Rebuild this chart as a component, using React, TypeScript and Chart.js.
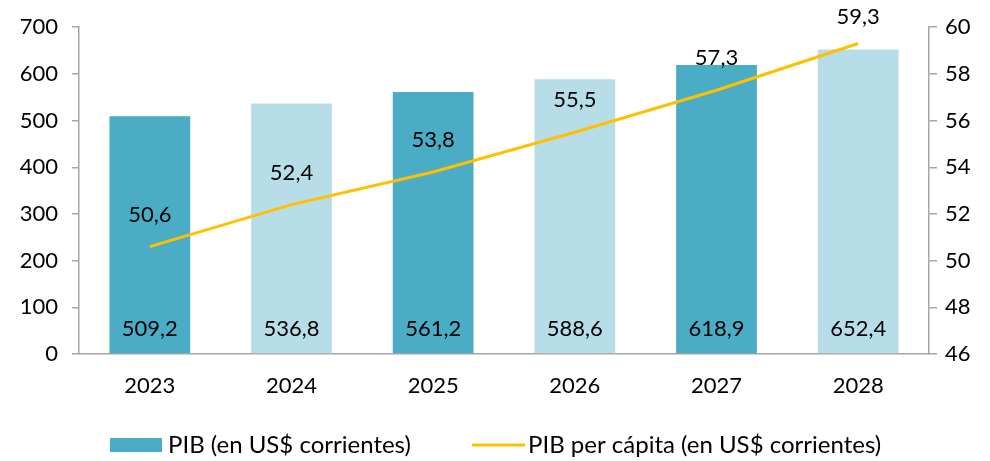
import React, { useEffect, useRef } from "react";
import { Chart, registerables } from "chart.js";

Chart.register(...registerables);

const years = ["2023", "2024", "2025", "2026", "2027", "2028"];
const pib = [509.2, 536.8, 561.2, 588.6, 618.9, 652.4];
const pibPerCapita = [50.6, 52.4, 53.8, 55.5, 57.3, 59.3];
const barColors = ["#4BACC6", "#B7DDE8", "#4BACC6", "#B7DDE8", "#4BACC6", "#B7DDE8"];
const pibLabel = "PIB (en US$ corrientes)";
const perCapitaLabel = "PIB per cápita (en US$ corrientes)";

const FONT = "Lato, 'Open Sans', sans-serif";
const fmt = (v: number) => v.toFixed(1).replace(".", ",");

const labelsPlugin = {
  id: "customLabels",
  afterDatasetsDraw(chart: any) {
    const ctx = chart.ctx;
    ctx.save();
    ctx.font = `22px ${FONT}`;
    ctx.fillStyle = "#000";
    ctx.textAlign = "center";
    ctx.textBaseline = "middle";
    const bottom = chart.chartArea.bottom;
    const barMeta = chart.getDatasetMeta(0);
    barMeta.data.forEach((el: any, i: number) => {
      ctx.fillText(fmt(pib[i]), el.x, bottom - 25);
    });
    const lineMeta = chart.getDatasetMeta(1);
    lineMeta.data.forEach((el: any, i: number) => {
      const y = Math.max(el.y - 32, 17);
      ctx.fillText(fmt(pibPerCapita[i]), el.x, y);
    });
    // legend
    ctx.font = `24px ${FONT}`;
    ctx.textAlign = "left";
    ctx.fillStyle = "#4BACC6";
    ctx.fillRect(110, 438, 52, 14);
    ctx.fillStyle = "#000";
    ctx.fillText(pibLabel, 168, 445);
    ctx.strokeStyle = "#FFC000";
    ctx.lineWidth = 3;
    ctx.beginPath();
    ctx.moveTo(472, 445);
    ctx.lineTo(525, 445);
    ctx.stroke();
    ctx.fillText(perCapitaLabel, 528, 445);
    ctx.restore();
  },
};

export default function App() {
  const ref = useRef<HTMLCanvasElement>(null);
  useEffect(() => {
    document.body.style.margin = "0";
    const chart = new Chart(ref.current!, {
      type: "bar",
      data: {
        labels: years,
        datasets: [
          {
            type: "bar",
            label: pibLabel,
            data: pib,
            backgroundColor: barColors,
            yAxisID: "y",
            barPercentage: 0.57,
            categoryPercentage: 1,
            order: 2,
          },
          {
            type: "line",
            label: perCapitaLabel,
            data: pibPerCapita,
            borderColor: "#FFC000",
            borderWidth: 3,
            pointRadius: 0,
            tension: 0,
            yAxisID: "y1",
            order: 1,
          } as any,
        ],
      },
      options: {
        responsive: false,
        animation: false,
        layout: { padding: { top: 25, left: 0, right: 0, bottom: 0 } },
        plugins: { legend: { display: false }, tooltip: { enabled: false } },
        scales: {
          x: {
            grid: { display: false },
            border: { display: true, color: "#A6A6A6", width: 1.5 },
            ticks: { color: "#000", font: { family: FONT, size: 22 }, padding: 11 },
            afterFit: (s: any) => { s.height = 107; },
          },
          y: {
            position: "left",
            min: 0,
            max: 700,
            ticks: { stepSize: 100, color: "#000", font: { family: FONT, size: 22 }, padding: 14 },
            grid: { drawOnChartArea: false, tickLength: 7, color: "#A6A6A6", lineWidth: 1.5 },
            border: { color: "#A6A6A6", width: 1.5 },
            afterFit: (s: any) => { s.width = 79; },
          },
          y1: {
            position: "right",
            min: 46,
            max: 60,
            ticks: { stepSize: 2, color: "#000", font: { family: FONT, size: 22 }, padding: 8 },
            grid: { drawOnChartArea: false, tickLength: 8, color: "#A6A6A6", lineWidth: 1.5 },
            border: { color: "#A6A6A6", width: 1.5 },
            afterFit: (s: any) => { s.width = 61; },
          },
        },
      },
      plugins: [labelsPlugin],
    });
    return () => chart.destroy();
  }, []);
  return <canvas ref={ref} width={990} height={461} style={{ display: "block" }} />;
}
